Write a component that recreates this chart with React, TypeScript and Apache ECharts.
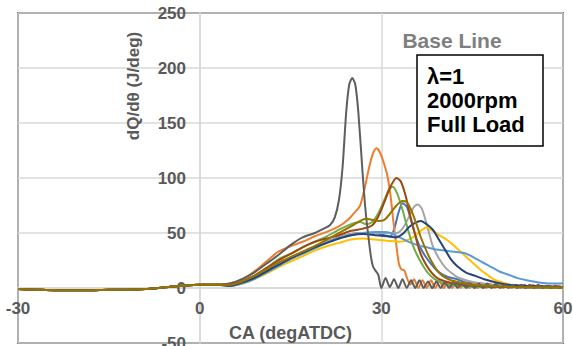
import React, { useEffect, useRef } from "react";
import * as echarts from "echarts";

type P = [number, number];

// Crank angle ticks
const X_TICKS = [-30, 0, 30, 60];
const Y_TICKS = [-50, 0, 50, 100, 150, 200, 250];

// Shared pre-ignition portion (CA, dQ/dθ)
const PRE_CA = [-30, -27, -24, -21, -18, -15, -12, -9, -6, -3, 0, 3];
const PRE_Q = [-1, -1.5, -2, -2, -2, -1.5, -1.5, -1, 0.5, 2, 3, 3];

const SERIES_NAMES = [
  "Blue", "Orange", "Gray", "Gold", "LightBlue", "Green", "DarkBlue", "Brown", "DarkGray", "Olive",
];

const blue: P[] = [[5,2],[7,5],[9,9],[11,15],[13,21],[15,27],[17,32],[19,37],[21,42],[23,46],[25,49],[27,50],[29,50],[30.5,48],[31.5,47],[32.2,55],[32.8,68],[33.5,77],[34.2,74],[35,60],[35.8,45],[36.6,35],[37.5,27],[38.5,20],[39.6,14],[41,10],[42.5,8],[44,5],[45.5,4],[48,2],[52,1],[60,0.5]];
const orange: P[] = [[5,4],[7,8],[9,15],[11,24],[13,33],[15,38],[17,42],[19,47],[21,51],[23,56],[24.5,62],[25.5,68],[26.5,75],[27.3,92],[28,110],[28.6,122],[29.2,127],[29.8,123],[30.5,112],[31,102],[31.5,85],[32,60],[32.5,38],[32.9,22],[33.3,17],[33.8,16],[34.3,8],[34.8,3],[35.4,8],[36.1,0],[36.8,7],[37.5,0],[38.2,7],[38.9,0],[39.6,6],[40.3,0],[41,6],[41.7,0],[42.4,5],[43.1,0],[43.8,5],[44.5,0],[45.2,4],[45.9,0],[46.6,4],[47.3,0],[48,4],[48.7,0],[49.4,3],[50.1,0],[50.8,3],[51.5,0],[52.2,3],[52.9,0],[53.6,3],[54.3,0],[55,3],[55.7,0],[56.4,2],[57.1,0],[57.8,2],[58.5,0],[59.2,2],[60,0]];
const gray: P[] = [[5,3],[7,5],[9,10],[11,16],[13,22],[15,28],[17,33],[19,38],[21,42],[23,46],[25,49],[27,50],[29,50],[31,50],[32.5,50],[33.5,54],[34.5,64],[35.3,73],[36,76],[36.7,72],[37.5,58],[38.5,38],[39.5,27],[40.5,19],[41.5,14],[42.5,10],[44,7],[45.5,5],[47,4],[50,2],[55,1],[60,0.5]];
const gold: P[] = [[5,2],[7,4],[9,8],[11,13],[13,19],[15,24],[17,29],[19,34],[21,38],[23,41],[25,44],[27,45],[29,44],[31,43],[33,42],[34.5,44],[35.5,47],[36.5,52],[37.5,55],[38.5,52],[39.5,48],[40.5,45],[41.5,41],[42.5,36],[43.5,31],[44.5,26],[45.5,21],[46.5,16],[47.5,12],[48.5,8],[50,5],[52,2],[55,1],[60,0.5]];
const lightBlue: P[] = [[5,2],[7,4],[9,8],[11,14],[13,20],[15,26],[17,31],[19,36],[21,41],[23,45],[25,48],[27,50],[29,51],[30.5,51],[31.5,50],[33,46],[34.5,42],[36,39],[37.5,37],[39,35],[40.5,34],[42,33],[43.5,32],[44.5,30],[45.5,27],[46.5,24],[47.5,21],[48.5,18],[49.5,15],[50.5,13],[51.5,11],[52.5,9],[54,7],[56,5],[58,4],[60,4]];
const green: P[] = [[5,3],[7,6],[9,11],[11,18],[13,26],[15,31],[17,37],[19,42],[21,47],[23,53],[25,58],[26.5,60],[27.5,58],[28.5,60],[29.5,68],[30.5,80],[31.3,90],[31.9,92],[32.6,86],[33.4,73],[34.2,57],[35,42],[35.9,30],[36.8,21],[37.8,13],[38.8,8],[40,5],[41,3],[43,2],[46,1],[50,1],[55,0.5],[60,0.5]];
const darkBlue: P[] = [[5,2],[7,5],[9,9],[11,15],[13,21],[15,27],[17,32],[19,37],[21,41],[23,45],[25,48],[27,49],[29,48],[31,47],[32.5,46],[33.5,49],[34.5,55],[35.5,59],[36.5,61],[37.5,58],[38.5,53],[39.5,44],[40.5,35],[41.5,26],[42.5,20],[44,14],[45.5,11],[47,8],[49,5],[51,3],[54,2],[60,1]];
const brown: P[] = [[5,3],[7,6],[9,11],[11,18],[13,25],[15,31],[17,37],[19,42],[21,45],[23,48],[25,52],[27,54],[28.5,57],[29.5,65],[30.5,78],[31.5,92],[32.5,100],[33.2,97],[34,84],[34.8,65],[35.5,50],[36.3,34],[37,25],[38,16],[39,10],[40,7],[42,4],[45,2],[50,1],[60,0.5]];
const darkGray: P[] = [[5,4],[7,8],[9,14],[11,22],[13,30],[15,39],[17,46],[19,50],[20.5,54],[21.5,57],[22.3,64],[23,80],[23.6,110],[24.2,160],[24.7,185],[25.2,191],[25.7,185],[26.2,160],[26.9,105],[27.4,70],[27.9,45],[28.3,28],[28.6,20],[29,16],[29.5,12],[30,0],[30.7,9],[31.4,1],[32.1,8],[32.8,0],[33.5,8],[34.2,0],[34.9,7],[35.6,0],[36.3,7],[37,0],[37.7,6],[38.4,0],[39.1,6],[39.8,0],[40.5,5],[41.2,0],[41.9,5],[42.6,0],[43.3,5],[44,0],[44.7,4],[45.4,0],[46.1,4],[46.8,0],[47.5,4],[48.2,0],[48.9,4],[49.6,0],[50.3,3],[51,0],[51.7,3],[52.4,0],[53.1,3],[53.8,0],[54.5,3],[55.2,0],[55.9,3],[56.6,0],[57.3,2],[58,0],[58.7,2],[59.4,0],[60,1]];
const olive: P[] = [[5,3],[7,6],[9,11],[11,17],[13,23],[15,28],[17,33],[19,38],[21,44],[23,50],[25,56],[26.5,61],[27.5,63],[28.5,62],[29.5,61],[30.5,62],[31.5,68],[32.5,75],[33.5,79],[34.2,78],[35,70],[35.8,58],[36.6,45],[37.5,33],[38.3,24],[39.2,16],[40.1,11],[41.5,7],[43,5],[45,3],[48,2],[52,1],[60,0.5]];

const SERIES_DATA = [blue, orange, gray, gold, lightBlue, green, darkBlue, brown, darkGray, olive];
const COLORS = ["#4472C4", "#ED7D31", "#A5A5A5", "#FFC000", "#5B9BD5", "#70AD47", "#264478", "#9E480E", "#5E5E5E", "#997300"];

const FONT = "'Liberation Sans', Arial, sans-serif";

export default function App() {
  const ref = useRef<HTMLDivElement>(null);
  useEffect(() => {
    if (!ref.current) return;
    const chart = echarts.init(ref.current, undefined, { renderer: "svg" });
    const pre: P[] = PRE_CA.map((c, i) => [c, PRE_Q[i]]);
    chart.setOption({
      animation: false,
      grid: {
        left: 18, top: 13, right: 10, bottom: 3,
        containLabel: false, outerBoundsMode: "none",
        show: true, borderColor: "#000", borderWidth: 1.5, backgroundColor: "transparent",
      },
      xAxis: {
        type: "value", min: X_TICKS[0], max: X_TICKS[X_TICKS.length - 1], interval: 30,
        offset: -55,
        axisLine: { onZero: true, lineStyle: { color: "#D9D9D9", width: 1.5 } },
        axisTick: { show: false },
        splitLine: { show: true, lineStyle: { color: "#D9D9D9", width: 1.5 } },
        axisLabel: { color: "#595959", fontSize: 17, fontWeight: "bold", fontFamily: FONT, margin: 12 },
        name: "CA (degATDC)", nameLocation: "middle", nameGap: 36,
        nameTextStyle: { color: "#595959", fontSize: 18, fontWeight: "bold", fontFamily: FONT },
      },
      yAxis: {
        type: "value", min: Y_TICKS[0], max: Y_TICKS[Y_TICKS.length - 1], interval: 50,
        offset: -182,
        axisLine: { onZero: true, lineStyle: { color: "#D9D9D9", width: 1.5 } },
        axisTick: { show: false },
        splitLine: { show: true, lineStyle: { color: "#D9D9D9", width: 1.5 } },
        axisLabel: { color: "#595959", fontSize: 17, fontWeight: "bold", fontFamily: FONT, margin: 14 },
      },
      graphic: [
        {
          type: "text", x: 133, y: 86, rotation: Math.PI / 2, z: 100,
          style: {
            text: "dQ/dθ (J/deg)", fill: "#595959", font: `bold 17px ${FONT}`,
            textAlign: "center", textVerticalAlign: "middle",
          },
        },
        {
          type: "text", x: 452, y: 40, z: 100,
          style: { text: "Base Line", fill: "#7F7F7F", font: `bold 21px ${FONT}`, textAlign: "center", textVerticalAlign: "middle" },
        },
        {
          type: "rect", z: 100, shape: { x: 417, y: 55, width: 126, height: 91 },
          style: { fill: "#fff", stroke: "#000", lineWidth: 1.5 },
        },
        {
          type: "text", x: 427, y: 100, z: 101,
          style: {
            text: "λ=1\n2000rpm\nFull Load", fill: "#000", font: `bold 22px ${FONT}`,
            lineHeight: 24, textAlign: "left", textVerticalAlign: "middle",
          },
        },
      ],
      series: SERIES_DATA.map((d, i) => ({
        name: SERIES_NAMES[i],
        type: "line",
        data: [...pre, ...d],
        showSymbol: false,
        smooth: 0.25,
        lineStyle: { color: COLORS[i], width: 2 },
        itemStyle: { color: COLORS[i] },
      })),
    });
    return () => chart.dispose();
  }, []);
  return <div ref={ref} style={{ width: 573, height: 346, position: "absolute", left: 0, top: 0 }} />;
}
